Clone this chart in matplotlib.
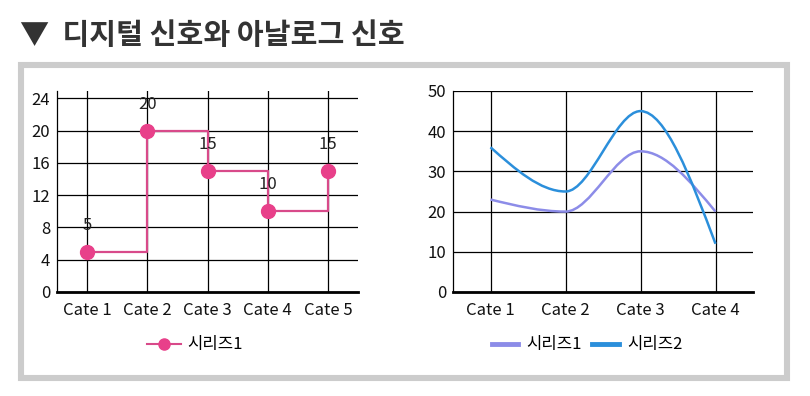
import matplotlib as mp
mp.use('Agg')

import matplotlib.pyplot as plt
from matplotlib.path import Path
from matplotlib.patches import PathPatch, Rectangle
from matplotlib.lines import Line2D
import numpy as np

plt.rcParams['font.family'] = ['Noto Sans CJK KR', 'DejaVu Sans']

# data
title = '▼  디지털 신호와 아날로그 신호'
cats_left = ['Cate 1', 'Cate 2', 'Cate 3', 'Cate 4', 'Cate 5']
digital = [5, 20, 15, 10, 15]
cats_right = ['Cate 1', 'Cate 2', 'Cate 3', 'Cate 4']
series1 = [23, 20, 35, 20]
series2 = [36, 25, 45, 12]
names = ['시리즈1', '시리즈2']

pink = '#e8408a'
purple = '#8c8ce8'
blue = '#2b8fdb'
W, H = 810, 396


def px(x, y, w, h):
    # pixel box (from top-left) -> figure fraction
    return [x / W, 1 - (y + h) / H, w / W, h / H]


def monotone_path(xs, ys):
    # monotone cubic curve through the points, as bezier segments
    xs = np.asarray(xs, float)
    ys = np.asarray(ys, float)
    n = len(xs)
    h = np.diff(xs)
    s = np.diff(ys) / h
    t = np.zeros(n)
    for i in range(1, n - 1):
        p = (s[i - 1] * h[i] + s[i] * h[i - 1]) / (h[i - 1] + h[i])
        t[i] = (np.sign(s[i - 1]) + np.sign(s[i])) * min(abs(s[i - 1]), abs(s[i]), 0.5 * abs(p))
    t[0] = (3 * s[0] - t[1]) / 2
    t[-1] = (3 * s[-1] - t[-2]) / 2
    verts = [(xs[0], ys[0])]
    codes = [Path.MOVETO]
    for i in range(n - 1):
        dx = h[i] / 3
        verts += [(xs[i] + dx, ys[i] + dx * t[i]),
                  (xs[i + 1] - dx, ys[i + 1] - dx * t[i + 1]),
                  (xs[i + 1], ys[i + 1])]
        codes += [Path.CURVE4] * 3
    return Path(verts, codes)


def style_axes(ax):
    ax.grid(True, color='black', linewidth=0.9)
    ax.set_axisbelow(True)
    for side in ['top', 'right']:
        ax.spines[side].set_visible(False)
    ax.spines['left'].set_linewidth(0.9)
    ax.spines['bottom'].set_linewidth(2)
    ax.tick_params(axis='both', length=0, labelsize=12, colors='#111111')
    ax.tick_params(axis='x', pad=7)
    ax.tick_params(axis='y', pad=5)


fig = plt.figure(figsize=(W / 100, H / 100), dpi=100)

# outer gray frame
fig.patches.append(Rectangle((21 / W, 1 - 378 / H), 766 / W, 313 / H,
                             transform=fig.transFigure, fill=False,
                             edgecolor='#cccccc', linewidth=4.4))

fig.text(20 / W, 1 - 35 / H, title, fontsize=21, fontweight='heavy',
         color='#333333', va='center', ha='left')

# left: digital signal
ax1 = fig.add_axes(px(57, 91, 301, 201))
x1 = np.arange(len(cats_left))
ax1.plot(x1, digital, drawstyle='steps-post', color='#d84a8a', linewidth=1.6)
ax1.plot(x1, digital, 'o', color=pink, markersize=10)
for xi, v in zip(x1, digital):
    ax1.annotate(str(v), (xi, v), xytext=(0, 19), textcoords='offset points',
                 ha='center', va='center', fontsize=12, color='#222222')
ax1.set_xlim(-0.5, len(cats_left) - 0.5)
ax1.set_ylim(0, 24.9)
ax1.set_yticks(range(0, 25, 4))
ax1.set_xticks(x1)
ax1.set_xticklabels(cats_left)
style_axes(ax1)
h1 = Line2D([], [], color='#d84a8a', linewidth=1.5, marker='o',
            markersize=8, markerfacecolor=pink, markeredgecolor=pink)
ax1.legend([h1], [names[0]], loc='center', bbox_to_anchor=(195 / W, 1 - 345 / H),
           bbox_transform=fig.transFigure, frameon=False, fontsize=12,
           handlelength=2.0, handletextpad=0.4)

# right: analog signal
ax2 = fig.add_axes(px(453, 91, 300, 201))
x2 = np.arange(len(cats_right))
ax2.add_patch(PathPatch(monotone_path(x2, series1), facecolor='none',
                        edgecolor=purple, linewidth=1.8))
ax2.add_patch(PathPatch(monotone_path(x2, series2), facecolor='none',
                        edgecolor=blue, linewidth=1.8))
ax2.set_xlim(-0.5, len(cats_right) - 0.5)
ax2.set_ylim(0, 50)
ax2.set_yticks(range(0, 51, 10))
ax2.set_xticks(x2)
ax2.set_xticklabels(cats_right)
style_axes(ax2)
hs = [Line2D([], [], color=purple, linewidth=3.5),
      Line2D([], [], color=blue, linewidth=3.5)]
ax2.legend(hs, names, loc='center', bbox_to_anchor=(587 / W, 1 - 345 / H),
           bbox_transform=fig.transFigure, frameon=False, fontsize=12, ncol=2,
           handlelength=1.6, handletextpad=0.5, columnspacing=0.6)

fig.savefig('out.png', dpi=100)
